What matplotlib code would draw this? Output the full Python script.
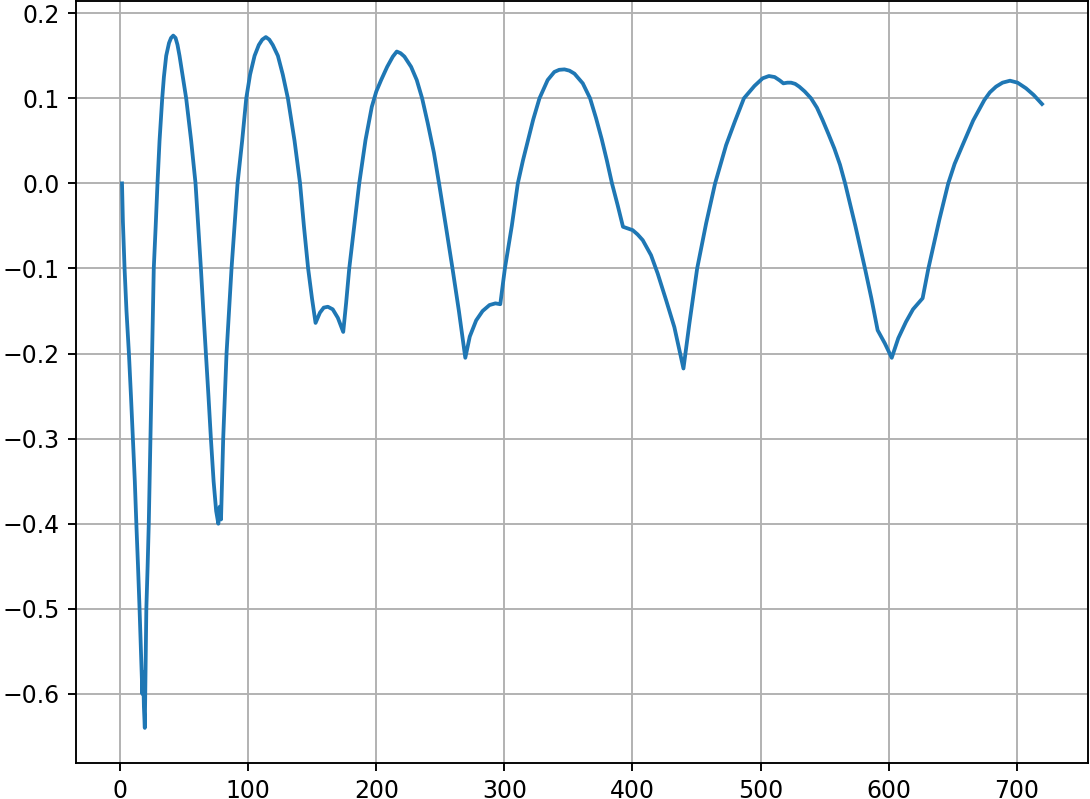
import matplotlib
matplotlib.use("Agg")
import matplotlib.pyplot as plt

x_vals = [1.5, 2.2, 3.5, 5.0, 6.9, 8.5, 10.0, 11.5, 12.7, 14.0, 15.2, 16.3, 17.4, 18.0, 18.6,
          19.3, 20.5, 21.5, 22.4, 23.7, 25.0, 26.3, 27.8, 29.2, 30.8, 32.9, 34.2, 36.0, 38.2, 39.8, 41.5,
          43.3, 44.8, 46.4, 49.0, 51.6, 55.5, 58.9, 61.0, 63.1, 65.0, 67.0, 69.0, 70.9, 73.0, 75.0, 76.7,
          77.8, 78.8, 80.5, 83.1, 87.0, 91.7, 95.3, 98.5, 101.5, 105.0, 108.3, 111.0, 113.8,
          116.5, 119.2, 123.2, 127.0, 131.0, 136.2, 140.5, 143.5, 146.8, 149.8, 152.6,
          156.0, 159.0, 162.2, 166.0, 170.0, 174.2, 176.5, 178.9, 182.8, 186.7, 191.6, 196.5,
          200.0, 203.8, 208.5, 212.9, 216.0, 219.0, 222.0, 227.2, 231.6, 235.8, 240.2, 245.0, 249.0,
          254.3, 259.5, 264.5, 269.5,
          273.0, 278.0, 283.0, 288.4, 293.0, 296.8, 300.4, 305.8, 310.5, 314.5, 318.3, 322.5, 327.4,
          333.8, 339.0, 342.8, 346.9, 350.8, 354.7, 361.2, 366.9, 371.5, 376.0, 380.0, 384.0, 388.5,
          392.6, 396.5, 400.2, 404.0, 408.0, 414.5,
          419.7, 426.2, 432.7, 439.8, 444.4, 450.5, 457.5, 464.5, 473.1, 480.0, 487.0, 495.2,
          501.6, 506.5, 511.0, 515.0, 517.8, 521.0, 523.8, 527.0, 530.2, 534.5, 539.4, 544.0, 548.4,
          553.0, 557.6, 562.0, 566.0, 574.0, 581.5, 586.5, 591.4, 597.0, 602.4, 607.5, 613.5, 619.0,
          626.5, 631.0, 639.5, 646.5, 651.5, 657.7, 666.0, 674.7, 679.0, 683.8, 688.9, 694.7, 700.6,
          707.2, 713.2, 719.7]
y_vals = [0.0, -0.045, -0.10, -0.15, -0.20, -0.25, -0.30, -0.35, -0.40, -0.45, -0.50, -0.55, -0.60, -0.575, -0.615,
          -0.640, -0.50, -0.45, -0.40, -0.30, -0.20, -0.10, -0.05, 0.0, 0.05, 0.10, 0.125, 0.15, 0.165, 0.171, 0.1737,
          0.171, 0.163, 0.15, 0.125, 0.10, 0.05, 0.0, -0.05, -0.10, -0.15, -0.20, -0.25, -0.30, -0.35, -0.385, -0.40,
          -0.38, -0.395, -0.30, -0.20, -0.10, 0.0, 0.05, 0.10, 0.128, 0.15, 0.1627, 0.169, 0.172,
          0.169, 0.1627, 0.15, 0.128, 0.10, 0.05, 0.0, -0.05, -0.10, -0.135, -0.164,
          -0.152, -0.146, -0.145, -0.148, -0.158, -0.1746, -0.14, -0.10, -0.05, 0.0, 0.051, 0.090,
          0.108, 0.1215, 0.137, 0.149, 0.155, 0.153, 0.149, 0.137, 0.1215, 0.10, 0.0706, 0.036, 0.0,
          -0.05, -0.10, -0.15, -0.205,
          -0.18, -0.161, -0.150, -0.143, -0.141, -0.142, -0.10, -0.05, 0.0, 0.027, 0.05, 0.075, 0.10,
          0.1215, 0.131, 0.1335, 0.134, 0.1325, 0.129, 0.1176, 0.10, 0.077, 0.052, 0.027, 0.0, -0.026,
          -0.051, -0.053, -0.055, -0.060, -0.0667, -0.0844,
          -0.106, -0.137, -0.169, -0.2176, -0.165, -0.10, -0.047, 0.0, 0.045, 0.073, 0.10, 0.1145,
          0.1235, 0.1262, 0.125, 0.121, 0.1176, 0.1184, 0.1184, 0.117, 0.1137, 0.108, 0.10, 0.089, 0.0745,
          0.058, 0.041, 0.022, 0.0, -0.05, -0.10, -0.135, -0.1726, -0.188, -0.205, -0.182, -0.1628, -0.148,
          -0.135, -0.10, -0.043, 0.0, 0.023, 0.045, 0.074, 0.098, 0.107, 0.1137, 0.1184, 0.1207, 0.1184,
          0.1118, 0.1039, 0.0933]

W, H, DPI = 1090, 799, 170.3
fig = plt.figure(figsize=(W / DPI, H / DPI), dpi=DPI)
ax = fig.add_axes([76 / W, 1 - 762.5 / H, (1088 - 76) / W, (762.5 - 1) / H])
ax.plot(x_vals, y_vals, color="#1f77b4", linewidth=1.6)
ax.grid(True)
ax.set_xticks([0, 100, 200, 300, 400, 500, 600, 700])
ax.set_yticks([-0.6, -0.5, -0.4, -0.3, -0.2, -0.1, 0.0, 0.1, 0.2])
fig.savefig("out.png", dpi=DPI)
